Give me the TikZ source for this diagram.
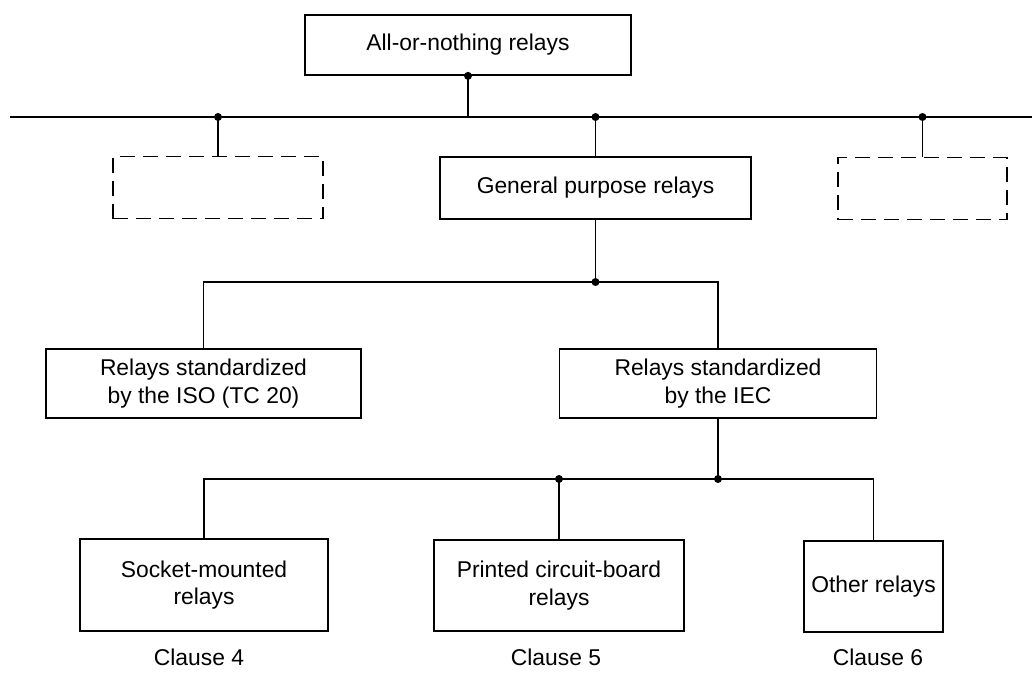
\documentclass[tikz,border=0pt]{standalone}
\usepackage{fontspec}
\setmainfont{Liberation Sans}
\usetikzlibrary{positioning}

\begin{document}
\begin{tikzpicture}[
  x=0.2mm, y=-0.2mm,
  font=\fontsize{13}{15.5}\selectfont,
  line width=1pt,
  box/.style={draw, minimum height=12.4mm, align=center},
  spare/.style={draw, dash pattern=on 3mm off 1.6mm, minimum height=12.4mm},
  tall/.style={box, minimum height=18.3mm},
  junction/.style={circle, fill, inner sep=0pt, minimum size=1.6mm},
]
  \useasboundingbox (0,0) rectangle (1032,672);

  \node[box, minimum width=65.2mm, minimum height=12mm] (allrel) at (468,45) {All-or-nothing relays};
  \node[spare, minimum width=42mm] (dashL) at (218,187.5) {};
  \node[box, minimum width=62.2mm] (genrel) at (595.5,188) {General purpose relays};
  \node[spare, minimum width=33.8mm] (dashR) at (922.5,188.5) {};

  \node[box, minimum width=63mm, minimum height=13.8mm] (iso) at (203.5,383.5) {Relays standardized\\by the ISO (TC 20)};
  \node[box, minimum width=63.4mm, minimum height=13.8mm] (iec) at (718,383.5) {Relays standardized\\by the IEC};

  \node[tall, minimum width=49.6mm] (socket) at (204,585) {Socket-mounted\\relays};
  \node[tall, minimum width=50mm] (pcb) at (559,585.5) {Printed circuit-board\\relays};
  \node[tall, minimum width=27.8mm] (other) at (873.5,586.5) {Other relays};

  \node (cl4) at (199,657) {Clause 4};
  \node (cl5) at (556,657) {Clause 5};
  \node (cl6) at (878,657) {Clause 6};

  % main bus
  \coordinate (busL) at (10,117);
  \coordinate (busR) at (1032,117);
  \draw (busL) -- (busR);
  \node[junction] (jtop) at (allrel.south) {};
  \draw (jtop.center) -- (jtop |- busL);
  \node[junction] (jL) at (dashL.north |- busL) {};
  \node[junction] (jG) at (genrel.north |- busL) {};
  \node[junction] (jR) at (dashR.north |- busL) {};
  \draw (jL.center) -- (dashL.north);
  \draw (jG.center) -- (genrel.north);
  \draw (jR.center) -- (dashR.north);

  % general purpose split
  \node[junction] (jgen) at (genrel.south |- 0,282) {};
  \draw (genrel.south) -- (jgen.center);
  \draw (iso.north) |- (jgen.center) -| (iec.north);

  % IEC split
  \node[junction] (jiec) at (iec.south |- 0,479) {};
  \draw (iec.south) -- (jiec.center);
  \draw (socket.north) |- (jiec.center) -| (other.north);
  \node[junction] (jpcb) at (pcb.north |- jiec) {};
  \draw (jpcb.center) -- (pcb.north);
\end{tikzpicture}
\end{document}
